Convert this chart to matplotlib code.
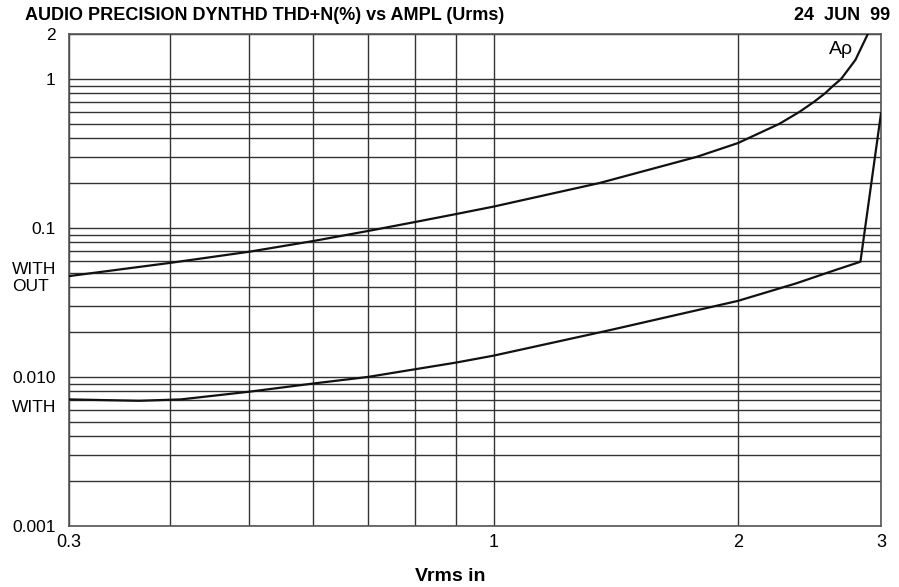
import numpy as np
import matplotlib
matplotlib.use("Agg")
import matplotlib.pyplot as plt
from matplotlib.ticker import LogLocator, NullFormatter, FixedLocator, FixedFormatter

plt.rcParams['font.family'] = ['Liberation Sans', 'DejaVu Sans']

# THD+N (%) without the circuit
x_without = [0.30, 0.40, 0.50, 0.60, 0.70, 0.80, 0.90, 1.00, 1.35, 1.78, 2.00, 2.06,
             2.25, 2.38, 2.48, 2.56, 2.62, 2.68, 2.79, 2.89]
y_without = [0.0475, 0.0583, 0.0692, 0.0817, 0.0953, 0.1095, 0.124, 0.139, 0.20, 0.30, 0.371, 0.40,
             0.50, 0.60, 0.70, 0.80, 0.90, 1.0, 1.34, 2.0]

# THD+N (%) with the circuit
x_with = [0.30, 0.366, 0.412, 0.50, 0.60, 0.70, 0.90, 1.00, 1.39, 2.00, 2.36, 2.62, 2.83, 3.00]
y_with = [0.00707, 0.00692, 0.00707, 0.00796, 0.00904, 0.0100, 0.0125, 0.0139, 0.0206, 0.0324, 0.0425, 0.0516, 0.0593, 0.587]

x_ticks = [0.3, 1, 2, 3]
x_ticklabels = ['0.3', '1', '2', '3']
y_ticks = [0.001, 0.010, 0.1, 1, 2]
y_ticklabels = ['0.001', '0.010', '0.1', '1', '2']

grid_col = '#333333'

fig = plt.figure(figsize=(8.99, 5.87), dpi=100)
ax = fig.add_axes([69/899, 1 - 526/587, 812/899, 492/587])

ax.plot(x_without, y_without, color='#111111', lw=1.6, zorder=3)
ax.plot(x_with, y_with, color='#111111', lw=1.6, zorder=3)

ax.set_xscale('log')
ax.set_yscale('log')
ax.set_xlim(0.3, 3)
ax.set_ylim(0.001, 2)

# grid at every 1..9 of each decade
ax.xaxis.set_minor_locator(LogLocator(base=10, subs=np.arange(2, 10)))
ax.yaxis.set_minor_locator(LogLocator(base=10, subs=np.arange(2, 10)))
ax.xaxis.set_minor_formatter(NullFormatter())
ax.yaxis.set_minor_formatter(NullFormatter())
ax.xaxis.set_major_locator(FixedLocator(x_ticks))
ax.xaxis.set_major_formatter(FixedFormatter(x_ticklabels))
ax.yaxis.set_major_locator(FixedLocator(y_ticks))
ax.yaxis.set_major_formatter(FixedFormatter(y_ticklabels))
ax.grid(True, which='both', color=grid_col, lw=1.0)

ax.tick_params(which='both', length=0)
ax.tick_params(axis='x', pad=6, labelsize=13)
ax.tick_params(axis='y', pad=9.5, labelsize=12.5)
for spine in ax.spines.values():
    spine.set_color('#555555')
    spine.set_linewidth(1.2)

# curve labels on the left side
tr = ax.get_yaxis_transform()
ax.text(-0.070, 0.046, 'WITH\nOUT', transform=tr, ha='left', va='center',
        fontsize=12.5, linespacing=1.2)
ax.text(-0.070, 0.00628, 'WITH', transform=tr, ha='left', va='center', fontsize=12.5)

ax.text(0.951, 0.986, 'A\u03c1', transform=ax.transAxes, ha='center', va='top', fontsize=14)

ax.set_xlabel('Vrms in', fontsize=14, fontweight='bold')
ax.xaxis.set_label_coords(0.469, -0.085)

fig.text(25/899, 1 - 15/587, 'AUDIO PRECISION DYNTHD THD+N(%) vs AMPL (Urms)',
         ha='left', va='center', fontsize=13, fontweight='bold')
fig.text(890/899, 1 - 15/587, '24  JUN  99', ha='right', va='center',
         fontsize=13, fontweight='bold')

fig.savefig('out.png', dpi=100)
